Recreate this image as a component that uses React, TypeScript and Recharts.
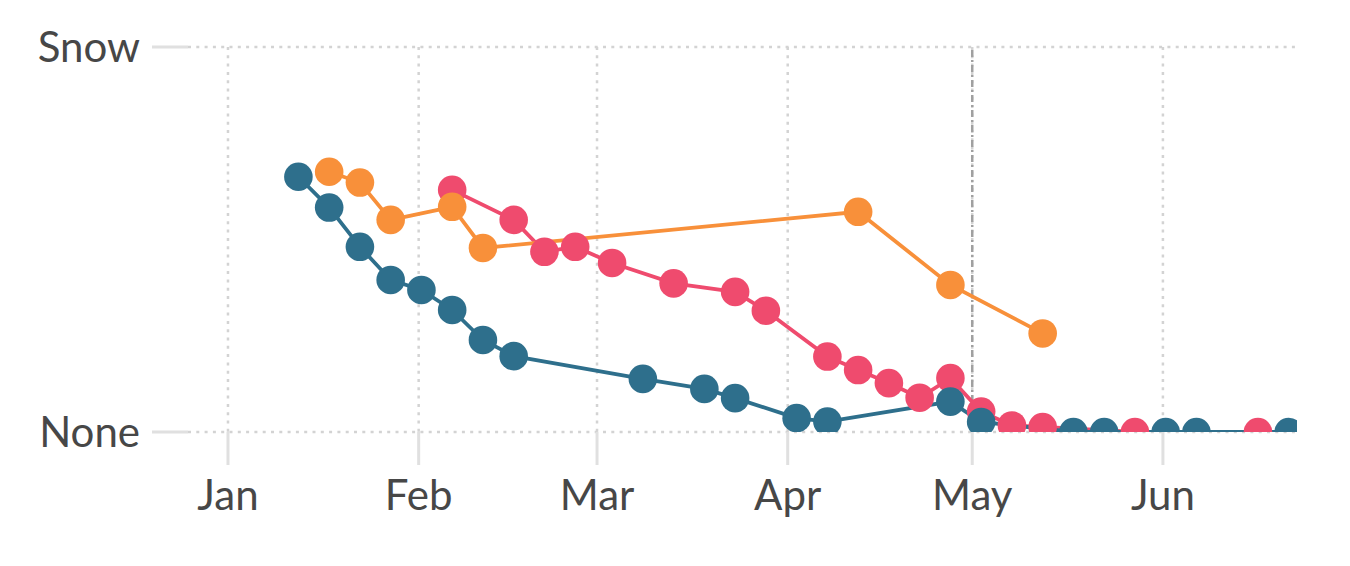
import { LineChart, Line, XAxis, YAxis, CartesianGrid, ReferenceLine } from 'recharts'

// dates are 2024 (leap year), x axis is day of year
const monthTicks = ['2024-01-01', '2024-02-01', '2024-03-01', '2024-04-01', '2024-05-01', '2024-06-01']
const monthLabels = ['Jan', 'Feb', 'Mar', 'Apr', 'May', 'Jun']

const yTicks = [0, 1]
const yLabels = ['None', 'Snow']

const tealDates = [
  '2024-01-12', '2024-01-17', '2024-01-22', '2024-01-27', '2024-02-01', '2024-02-06', '2024-02-11',
  '2024-02-16', '2024-03-08', '2024-03-18', '2024-03-23', '2024-04-02', '2024-04-07', '2024-04-27',
  '2024-05-02', '2024-05-17', '2024-05-22', '2024-06-01', '2024-06-06', '2024-06-21',
]
const tealValues = [
  0.663, 0.583, 0.481, 0.395, 0.369, 0.317, 0.239, 0.197, 0.138, 0.112, 0.088, 0.036, 0.027, 0.079,
  0.026, 0, 0, 0, 0, 0,
]

const pinkDates = [
  '2024-02-06', '2024-02-16', '2024-02-21', '2024-02-26', '2024-03-03', '2024-03-13', '2024-03-23',
  '2024-03-28', '2024-04-07', '2024-04-12', '2024-04-17', '2024-04-22', '2024-04-27', '2024-05-02',
  '2024-05-07', '2024-05-12', '2024-05-27', '2024-06-16',
]
const pinkValues = [
  0.629, 0.551, 0.468, 0.481, 0.439, 0.386, 0.364, 0.315, 0.196, 0.161, 0.127, 0.089, 0.14, 0.053,
  0.017, 0.013, 0, 0,
]

const orangeDates = ['2024-01-17', '2024-01-22', '2024-01-27', '2024-02-06', '2024-02-11', '2024-04-12', '2024-04-27', '2024-05-12']
const orangeValues = [0.676, 0.648, 0.551, 0.585, 0.478, 0.572, 0.382, 0.256]

const DAY = 86400000
const yearStart = Date.UTC(2024, 0, 1)
const toDay = (s: string) => (Date.parse(s + 'T00:00:00Z') - yearStart) / DAY

const series = (dates: string[], values: number[]) =>
  dates.map((d, i) => ({ t: toDay(d) + 0.45, v: values[i] }))

const tealData = series(tealDates, tealValues)
const pinkData = series(pinkDates, pinkValues)
const orangeData = series(orangeDates, orangeValues)
const tickDays = monthTicks.map(toDay)

const font = { fontFamily: 'Lato', fontSize: 42, fill: '#474747' }
const tickLine = { stroke: '#e0e0e0', strokeWidth: 3 }

export default function App() {
  return (
    <LineChart width={1342} height={550} margin={{ top: 39, right: 53, bottom: 36, left: 0 }}>
      <CartesianGrid stroke="#d3d3d3" strokeWidth={2.5} strokeDasharray="3 5.3" syncWithTicks />
      <XAxis
        type="number"
        dataKey="t"
        domain={[-6.5, 173.8]}
        allowDataOverflow
        ticks={tickDays}
        tickFormatter={(v) => monthLabels[tickDays.indexOf(v)]}
        axisLine={false}
        tickLine={tickLine}
        tickSize={33}
        tickMargin={15}
        height={90}
        tick={font}
        interval={0}
      />
      <YAxis
        type="number"
        domain={[0, 1]}
        allowDataOverflow
        ticks={yTicks}
        tickFormatter={(v) => yLabels[yTicks.indexOf(v)]}
        axisLine={false}
        tickLine={tickLine}
        tickSize={36}
        tickMargin={12}
        width={180}
        tick={font}
      />
      <ReferenceLine x={toDay('2024-05-01')} stroke="#a0a0a0" strokeWidth={2.5} strokeDasharray="7 3 2 3" />
      <Line
        data={pinkData}
        dataKey="v"
        type="linear"
        stroke="#ef4b6e"
        strokeWidth={3.8}
        dot={{ r: 14.3, fill: '#ef4b6e', stroke: 'none', strokeWidth: 0 }}
        isAnimationActive={false}
      />
      <Line
        data={orangeData}
        dataKey="v"
        type="linear"
        stroke="#f8903a"
        strokeWidth={3.8}
        dot={{ r: 14.3, fill: '#f8903a', stroke: 'none', strokeWidth: 0 }}
        isAnimationActive={false}
      />
      <Line
        data={tealData}
        dataKey="v"
        type="linear"
        stroke="#2e6f8c"
        strokeWidth={3.8}
        dot={{ r: 14.3, fill: '#2e6f8c', stroke: 'none', strokeWidth: 0 }}
        isAnimationActive={false}
      />
    </LineChart>
  )
}
